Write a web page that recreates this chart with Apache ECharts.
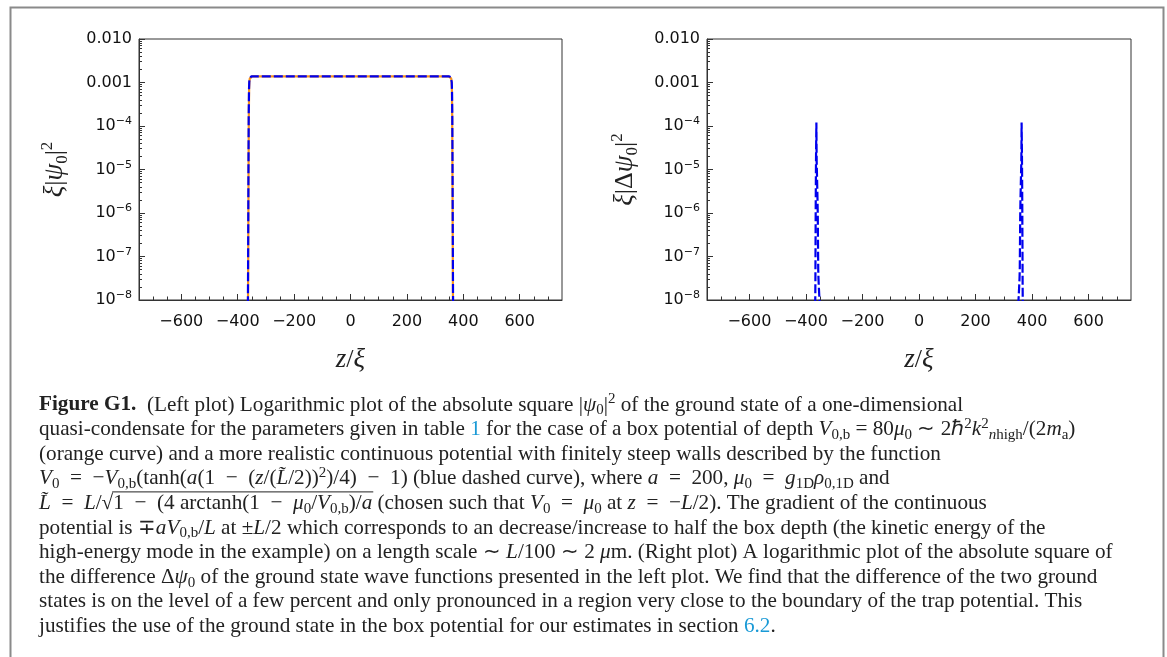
<!DOCTYPE html>
<html>
<head>
<meta charset="utf-8">
<script src="https://cdn.jsdelivr.net/npm/echarts@6/dist/echarts.min.js"></script>
<style>
  html, body { margin: 0; padding: 0; background: #fff; }
  #main { width: 1167px; height: 657px; }
</style>
</head>
<body>
<div id="main"></div>
<script>
// left plot: box potential ground state (orange) and continuous potential (blue dashed)
var boxZ = [-363.5, -362.5, -361.5, -360.5, -359.5, -358.5, -357, -355, -352, -348,
            348, 352, 355, 357, 358.5, 359.5, 360.5, 361.5, 362.5, 363.5];
var boxVal = [5e-9, 2e-7, 1e-5, 2e-4, 7e-4, 1.05e-3, 1.25e-3, 1.34e-3, 1.38e-3, 1.39e-3,
              1.39e-3, 1.38e-3, 1.34e-3, 1.25e-3, 1.05e-3, 7e-4, 2e-4, 1e-5, 2e-7, 5e-9];
var contZ = [-364, -363, -362, -361, -360, -359, -357.5, -355.5, -352, -348,
             348, 352, 355.5, 357.5, 359, 360, 361, 362, 363, 364];
var contVal = [4e-9, 1e-7, 6e-6, 1.6e-4, 6.5e-4, 1.02e-3, 1.24e-3, 1.33e-3, 1.38e-3, 1.39e-3,
               1.39e-3, 1.38e-3, 1.33e-3, 1.24e-3, 1.02e-3, 6.5e-4, 1.6e-4, 6e-6, 1e-7, 4e-9];

// right plot: |difference|^2, two narrow spikes at the walls
var diffZLeft = [-368, -367, -366.5, -366, -365.5, -365, -364.5, -364, -363, -362.5, -362,
                 -361, -360, -359, -358, -357.5, -357, -356.5, -355.5, -354, -352, -351];
var diffValLeft = [4e-9, 1e-8, 3e-8, 2e-7, 1e-6, 4e-6, 1.2e-5, 3e-5, 1.2e-4, 4e-5, 1.5e-5,
                   8e-6, 4e-6, 2e-6, 8e-7, 3e-7, 1.2e-7, 5e-8, 3e-8, 1.8e-8, 1e-8, 4e-9];
var diffZRight = [351, 352, 354, 355.5, 356.5, 357, 357.5, 358, 359, 360, 361,
                  362, 362.5, 363, 364, 364.5, 365, 365.5, 366, 366.5, 367, 368];
var diffValRight = [4e-9, 1e-8, 1.8e-8, 3e-8, 5e-8, 1.2e-7, 3e-7, 8e-7, 2e-6, 4e-6, 8e-6,
                    1.5e-5, 4e-5, 1.2e-4, 3e-5, 1.2e-5, 4e-6, 1e-6, 2e-7, 3e-8, 1e-8, 4e-9];

// axes
var xMajor = [-600, -400, -200, 0, 200, 400, 600];
var xMinor = [-700, -650, -600, -550, -500, -450, -400, -350, -300, -250, -200, -150, -100, -50, 0,
              50, 100, 150, 200, 250, 300, 350, 400, 450, 500, 550, 600, 650, 700];
var yMajor = [1e-8, 1e-7, 1e-6, 1e-5, 1e-4, 1e-3, 1e-2];
var yMinorSteps = [2, 3, 4, 5, 6, 7, 8, 9];

var yMinor = [];
for (var d = 0; d < yMajor.length - 1; d++) {
	for (var k = 0; k < yMinorSteps.length; k++) {
		yMinor.push(yMajor[d] * yMinorSteps[k]);
	}
}

var pairs = function(xs, ys){
	var out = [];
	for (var i = 0; i < xs.length; i++) out.push([xs[i], ys[i]]);
	return out;
};

var AX = '#333';
var BLUE = '#0000ee';
var ORANGE = '#f7941d';
var TICKFONT = 'DejaVu Sans';
var MATH = 'Liberation Serif';
var CAP = 21.2;
var CAPS = 15;
var SP = '\u2002';

var yLabel = function(v){
	var e = Math.round(Math.log(v) / Math.LN10);
	if (e >= -3) return Math.pow(10, e).toFixed(3);
	return '10{e|\u2212' + (-e) + '}';
};
var xLabel = function(v){
	return v < 0 ? '\u2212' + (-v) : String(v);
};

var mathRich = {
	i: { fontFamily: MATH, fontStyle: 'italic', fontSize: 27, lineHeight: 32 },
	u: { fontFamily: MATH, fontSize: 17, lineHeight: 17, verticalAlign: 'bottom' },
	p: { fontFamily: MATH, fontSize: 17, lineHeight: 17, verticalAlign: 'top' }
};

var makeX = function(gi){
	return [{
		type: 'value', gridIndex: gi, min: -750, max: 750, position: 'bottom',
		axisLine: { show: true, onZero: false, lineStyle: { color: AX, width: 1 } },
		axisTick: { show: true, inside: true, length: 6, customValues: xMajor, lineStyle: { color: AX } },
		axisLabel: { show: true, customValues: xMajor, formatter: xLabel, fontFamily: TICKFONT,
		             fontSize: 16, color: '#111', margin: 14 },
		splitLine: { show: false },
		name: '{i|z}/{i|\u03be}', nameLocation: 'middle', nameGap: 44,
		nameTextStyle: { fontFamily: MATH, fontSize: 26, color: '#222', rich: mathRich }
	}, {
		type: 'value', gridIndex: gi, min: -750, max: 750, position: 'bottom',
		axisLine: { show: false, onZero: false },
		axisTick: { show: true, inside: true, length: 3.5, customValues: xMinor, lineStyle: { color: AX } },
		axisLabel: { show: false },
		splitLine: { show: false }
	}];
};

var makeY = function(gi, name, gap){
	return [{
		type: 'log', logBase: 10, gridIndex: gi, min: 1e-8, max: 1e-2, position: 'left',
		axisLine: { show: true, onZero: false, lineStyle: { color: AX, width: 1 } },
		axisTick: { show: true, inside: true, length: 6, customValues: yMajor, lineStyle: { color: AX } },
		axisLabel: { show: true, customValues: yMajor, formatter: yLabel, fontFamily: TICKFONT,
		             fontSize: 16, color: '#111', margin: 7, lineHeight: 20,
		             rich: { e: { fontFamily: TICKFONT, fontSize: 11, lineHeight: 11, verticalAlign: 'top', color: '#111' } } },
		splitLine: { show: false },
		name: name, nameLocation: 'middle', nameGap: gap, nameRotate: 90,
		nameTextStyle: { fontFamily: MATH, fontSize: 26, color: '#222', rich: mathRich }
	}, {
		type: 'log', logBase: 10, gridIndex: gi, min: 1e-8, max: 1e-2, position: 'left',
		axisLine: { show: false, onZero: false },
		axisTick: { show: true, inside: true, length: 3, customValues: yMinor, lineStyle: { color: AX } },
		axisLabel: { show: false },
		splitLine: { show: false }
	}];
};

// caption
var capRich = {
	b: { fontFamily: MATH, fontWeight: 'bold', fontSize: CAP, lineHeight: 26, fill: '#222' },
	i: { fontFamily: MATH, fontStyle: 'italic', fontSize: CAP, lineHeight: 26, fill: '#222' },
	u: { fontFamily: MATH, fontSize: CAPS, lineHeight: CAPS, verticalAlign: 'bottom', fill: '#222' },
	ui: { fontFamily: MATH, fontStyle: 'italic', fontSize: CAPS, lineHeight: CAPS, verticalAlign: 'bottom', fill: '#222' },
	p: { fontFamily: MATH, fontSize: CAPS, lineHeight: CAPS, verticalAlign: 'top', fill: '#222' },
	l: { fontFamily: MATH, fontSize: CAP, lineHeight: 26, fill: '#1a9ad6' }
};
var eq = SP + '=' + SP;
var mn = SP + '\u2212' + SP;
var sqrtHead = '{i|L\u0303}' + eq + '{i|L}/\u221a';
var sqrtBody = '1' + mn + '(4 arctanh(1' + mn + '{i|\u03bc}{u|0}/{i|V}{u|0,b})/{i|a}';
var captionLines = [
	'{b|Figure G1.}  (Left plot) Logarithmic plot of the absolute square |{i|\u03c8}{u|0}|{p|2} of the ground state of a one-dimensional',
	'quasi-condensate for the parameters given in table {l|1} for the case of a box potential of depth {i|V}{u|0,b} = 80{i|\u03bc}{u|0} \u223c 2\u210f{p|2}{i|k}{p|2}{ui|n}{u|high}/(2{i|m}{u|a})',
	'(orange curve) and a more realistic continuous potential with finitely steep walls described by the function',
	'{i|V}{u|0}' + eq + '\u2212{i|V}{u|0,b}(tanh({i|a}(1' + mn + '({i|z}/({i|L\u0303}/2)){p|2})/4)' + mn + '1) (blue dashed curve), where {i|a}' + eq + '200, {i|\u03bc}{u|0}' + eq + '{i|g}{u|1D}{i|\u03c1}{u|0,1D} and',
	sqrtHead + sqrtBody + ' (chosen such that {i|V}{u|0}' + eq + '{i|\u03bc}{u|0} at {i|z}' + eq + '\u2212{i|L}/2). The gradient of the continuous',
	'potential is \u2213{i|aV}{u|0,b}/{i|L} at \u00b1{i|L}/2 which corresponds to an decrease/increase to half the box depth (the kinetic energy of the',
	'high-energy mode in the example) on a length scale \u223c {i|L}/100 \u223c 2 {i|\u03bc}m. (Right plot) A logarithmic plot of the absolute square of',
	'the difference \u0394{i|\u03c8}{u|0} of the ground state wave functions presented in the left plot. We find that the difference of the two ground',
	'states is on the level of a few percent and only pronounced in a region very close to the boundary of the trap potential. This',
	'justifies the use of the ground state in the box potential for our estimates in section {l|6.2}.'
];

// measure rich fragments so the square-root bar sits over its radicand
var ctx = document.createElement('canvas').getContext('2d');
var fontOf = function(st){
	var s = capRich[st];
	if (!s) return CAP + 'px "' + MATH + '"';
	return (s.fontStyle ? s.fontStyle + ' ' : '') + (s.fontWeight ? s.fontWeight + ' ' : '') + s.fontSize + 'px "' + MATH + '"';
};
var richWidth = function(str){
	var re = /\{([a-z]+)\|([^}]*)\}/g, w = 0, last = 0, m;
	while ((m = re.exec(str)) !== null) {
		if (m.index > last) { ctx.font = fontOf(null); w += ctx.measureText(str.slice(last, m.index)).width; }
		ctx.font = fontOf(m[1]); w += ctx.measureText(m[2]).width;
		last = re.lastIndex;
	}
	if (last < str.length) { ctx.font = fontOf(null); w += ctx.measureText(str.slice(last)).width; }
	return w;
};

var CAPX = 39, CAPY = 405, CAPDY = 24.6;
var graphics = [{
	type: 'rect', left: 8, top: 5, silent: true,
	shape: { x: 0, y: 0, width: 1153, height: 700 },
	style: { fill: 'none', stroke: '#8a8a8a', lineWidth: 2 }
}];
for (var c = 0; c < captionLines.length; c++) {
	graphics.push({
		type: 'text', x: CAPX, y: CAPY + c * CAPDY, silent: true,
		style: { text: captionLines[c], rich: capRich, fontFamily: MATH, fontSize: CAP, lineHeight: 26,
		         fill: '#222', verticalAlign: 'middle', align: 'left' }
	});
}
var barX0 = CAPX + richWidth(sqrtHead) - 1;
var barX1 = CAPX + richWidth(sqrtHead + sqrtBody) + 1;
var barY = CAPY + 4 * CAPDY - 11.5;
graphics.push({
	type: 'line', silent: true,
	shape: { x1: barX0, y1: barY, x2: barX1, y2: barY },
	style: { stroke: '#222', lineWidth: 1 }
});

var myChart = echarts.init(document.getElementById('main'));
var option = {
	animation: false,
	backgroundColor: '#fff',
	grid: [
		{ left: 139, top: 39, width: 423, height: 261, show: true, borderColor: AX, borderWidth: 1 },
		{ left: 707, top: 39, width: 424, height: 261, show: true, borderColor: AX, borderWidth: 1 }
	],
	xAxis: makeX(0).concat(makeX(1)),
	yAxis: makeY(0, '{i|\u03be}|{i|\u03c8}{u|0}|{p|2}', 68).concat(makeY(1, '{i|\u03be}|\u0394{i|\u03c8}{u|0}|{p|2}', 66)),
	graphic: graphics,
	series: [
		{ name: 'box', type: 'line', xAxisIndex: 0, yAxisIndex: 0, data: pairs(boxZ, boxVal),
		  showSymbol: false, symbol: 'none', clip: true,
		  lineStyle: { color: ORANGE, width: 2.2 } },
		{ name: 'continuous', type: 'line', xAxisIndex: 0, yAxisIndex: 0, data: pairs(contZ, contVal),
		  showSymbol: false, symbol: 'none', clip: true,
		  lineStyle: { color: BLUE, width: 2.2, type: [9, 3] } },
		{ name: 'diffL', type: 'line', xAxisIndex: 2, yAxisIndex: 2, data: pairs(diffZLeft, diffValLeft),
		  showSymbol: false, symbol: 'none', clip: true,
		  lineStyle: { color: BLUE, width: 2.2, type: [9, 3] } },
		{ name: 'diffR', type: 'line', xAxisIndex: 2, yAxisIndex: 2, data: pairs(diffZRight, diffValRight),
		  showSymbol: false, symbol: 'none', clip: true,
		  lineStyle: { color: BLUE, width: 2.2, type: [9, 3] } }
	]
};
myChart.setOption(option);
window.onresize = function(){
	myChart.resize();
};
</script>
</body>
</html>
